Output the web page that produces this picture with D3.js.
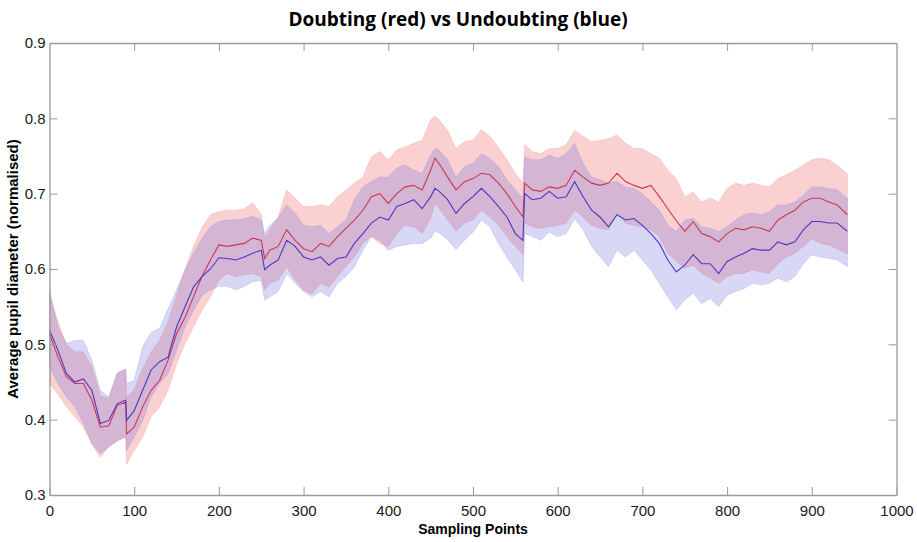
<!DOCTYPE html>
<html>
<head>
<meta charset="utf-8">
<script src="https://cdn.jsdelivr.net/npm/d3@7"></script>
<style>
  body { margin: 0; background: #fff; }
  svg { display: block; }
</style>
</head>
<body>
<div id="chart"></div>
<script>
// sampling points (x) and the curves
var xs = [0,10,20,30,40,50,60,70,80,90,91,100,110,120,130,140,150,160,170,180,190,200,210,220,230,240,250,254,260,270,280,290,300,310,320,330,340,350,360,370,380,390,400,410,420,430,440,450,455,460,470,480,490,500,510,520,530,540,550,559,561,570,580,590,600,610,620,630,640,650,660,670,680,690,700,710,720,730,740,750,760,770,780,790,800,810,820,830,840,850,860,870,880,890,900,910,920,930,942];

// doubting (red)
var redMean = [0.514,0.483,0.457,0.448,0.448,0.426,0.390,0.392,0.419,0.423,0.381,0.390,0.417,0.439,0.452,0.479,0.514,0.536,0.563,0.590,0.612,0.632,0.630,0.632,0.634,0.641,0.638,0.614,0.625,0.630,0.652,0.638,0.627,0.623,0.634,0.630,0.643,0.654,0.665,0.678,0.696,0.700,0.687,0.700,0.709,0.711,0.705,0.731,0.747,0.740,0.722,0.705,0.716,0.720,0.727,0.725,0.714,0.700,0.683,0.669,0.714,0.705,0.703,0.709,0.707,0.711,0.731,0.722,0.714,0.711,0.714,0.727,0.716,0.711,0.707,0.711,0.696,0.680,0.664,0.650,0.663,0.647,0.643,0.636,0.647,0.654,0.652,0.656,0.654,0.650,0.665,0.672,0.678,0.689,0.694,0.694,0.689,0.685,0.672];
var redUpper = [0.565,0.530,0.500,0.490,0.490,0.470,0.432,0.428,0.462,0.467,0.430,0.440,0.468,0.490,0.505,0.530,0.565,0.600,0.630,0.655,0.672,0.676,0.678,0.678,0.680,0.688,0.672,0.641,0.652,0.669,0.705,0.694,0.683,0.683,0.685,0.683,0.696,0.705,0.714,0.722,0.749,0.756,0.745,0.758,0.762,0.767,0.771,0.798,0.803,0.798,0.784,0.760,0.769,0.771,0.785,0.776,0.762,0.745,0.727,0.714,0.765,0.756,0.753,0.760,0.760,0.765,0.784,0.776,0.769,0.771,0.773,0.778,0.767,0.760,0.760,0.753,0.747,0.731,0.720,0.696,0.702,0.689,0.694,0.689,0.707,0.714,0.711,0.714,0.711,0.709,0.720,0.725,0.731,0.738,0.745,0.747,0.745,0.738,0.726];
var redLower = [0.448,0.434,0.417,0.404,0.390,0.368,0.350,0.364,0.372,0.377,0.341,0.359,0.377,0.404,0.417,0.439,0.474,0.501,0.523,0.545,0.563,0.585,0.594,0.590,0.592,0.594,0.590,0.572,0.581,0.585,0.603,0.585,0.572,0.567,0.581,0.576,0.590,0.603,0.616,0.634,0.643,0.634,0.630,0.647,0.658,0.656,0.647,0.667,0.688,0.680,0.665,0.650,0.661,0.665,0.678,0.669,0.658,0.643,0.630,0.619,0.661,0.656,0.654,0.656,0.658,0.661,0.678,0.669,0.658,0.654,0.652,0.674,0.661,0.658,0.656,0.652,0.643,0.621,0.610,0.601,0.605,0.594,0.588,0.581,0.590,0.594,0.594,0.599,0.596,0.594,0.607,0.616,0.621,0.630,0.640,0.634,0.632,0.627,0.620];

// undoubting (blue)
var blueMean = [0.519,0.492,0.461,0.450,0.454,0.439,0.395,0.399,0.421,0.426,0.399,0.412,0.439,0.466,0.477,0.483,0.523,0.550,0.576,0.590,0.600,0.615,0.614,0.612,0.616,0.621,0.625,0.599,0.605,0.612,0.638,0.630,0.616,0.612,0.616,0.605,0.614,0.616,0.634,0.647,0.661,0.669,0.665,0.683,0.687,0.692,0.680,0.696,0.707,0.703,0.692,0.674,0.687,0.696,0.707,0.696,0.683,0.669,0.647,0.638,0.700,0.692,0.694,0.703,0.694,0.696,0.716,0.696,0.678,0.669,0.656,0.672,0.665,0.667,0.658,0.647,0.634,0.612,0.596,0.605,0.619,0.607,0.607,0.594,0.610,0.616,0.621,0.627,0.625,0.625,0.636,0.632,0.636,0.652,0.663,0.663,0.661,0.661,0.650];
var blueUpper = [0.572,0.523,0.501,0.505,0.505,0.479,0.439,0.430,0.462,0.467,0.448,0.452,0.497,0.516,0.521,0.547,0.572,0.598,0.621,0.640,0.656,0.663,0.665,0.665,0.667,0.670,0.665,0.647,0.658,0.668,0.685,0.674,0.658,0.656,0.658,0.647,0.656,0.665,0.692,0.709,0.716,0.722,0.722,0.734,0.738,0.731,0.727,0.751,0.760,0.758,0.745,0.722,0.736,0.740,0.753,0.747,0.736,0.718,0.705,0.694,0.749,0.745,0.745,0.751,0.747,0.753,0.767,0.740,0.722,0.718,0.714,0.716,0.709,0.707,0.700,0.689,0.678,0.658,0.650,0.665,0.667,0.656,0.654,0.650,0.656,0.665,0.672,0.674,0.672,0.676,0.685,0.685,0.689,0.698,0.709,0.709,0.707,0.705,0.694];
var blueLower = [0.470,0.448,0.430,0.417,0.395,0.368,0.355,0.364,0.372,0.377,0.359,0.377,0.399,0.430,0.448,0.461,0.492,0.523,0.545,0.565,0.572,0.577,0.577,0.572,0.577,0.583,0.585,0.559,0.563,0.570,0.594,0.581,0.570,0.563,0.570,0.563,0.581,0.590,0.603,0.625,0.643,0.638,0.625,0.630,0.632,0.634,0.634,0.641,0.650,0.648,0.639,0.626,0.638,0.649,0.665,0.656,0.634,0.616,0.599,0.583,0.647,0.643,0.638,0.649,0.643,0.647,0.667,0.652,0.630,0.616,0.603,0.625,0.616,0.625,0.612,0.599,0.581,0.563,0.546,0.559,0.568,0.554,0.561,0.550,0.565,0.570,0.574,0.581,0.579,0.581,0.588,0.583,0.590,0.607,0.619,0.616,0.614,0.612,0.603];

var xTicks = [0,100,200,300,400,500,600,700,800,900,1000];
var yTicks = [0.3,0.4,0.5,0.6,0.7,0.8,0.9];

var width = 917, height = 542;
var margin = {top: 43, right: 20.5, bottom: 47, left: 49.5};

var svg = d3.select("#chart").append("svg")
  .attr("width", width)
  .attr("height", height);

var x = d3.scaleLinear().domain([0, 1000]).range([margin.left, width - margin.right]);
var y = d3.scaleLinear().domain([0.3, 0.9]).range([height - margin.bottom, margin.top]);

var red = xs.map(function(d, i) { return {x: d, m: redMean[i], lo: redLower[i], hi: redUpper[i]}; });
var blue = xs.map(function(d, i) { return {x: d, m: blueMean[i], lo: blueLower[i], hi: blueUpper[i]}; });

var band = d3.area()
  .x(function(d) { return x(d.x); })
  .y0(function(d) { return y(d.lo); })
  .y1(function(d) { return y(d.hi); });

var line = d3.line()
  .x(function(d) { return x(d.x); })
  .y(function(d) { return y(d.m); });

// shaded bands
svg.append("path").datum(red)
  .attr("d", band)
  .attr("fill", "rgb(240,100,100)")
  .attr("fill-opacity", 0.3)
  .attr("stroke", "rgb(235,150,150)")
  .attr("stroke-opacity", 0.4)
  .attr("stroke-width", 0.8);

svg.append("path").datum(blue)
  .attr("d", band)
  .attr("fill", "rgb(100,100,220)")
  .attr("fill-opacity", 0.25)
  .attr("stroke", "rgb(150,150,225)")
  .attr("stroke-opacity", 0.4)
  .attr("stroke-width", 0.8);

// mean lines
svg.append("path").datum(red)
  .attr("d", line)
  .attr("fill", "none")
  .attr("stroke", "rgb(205,55,80)")
  .attr("stroke-width", 1.1);

svg.append("path").datum(blue)
  .attr("d", line)
  .attr("fill", "none")
  .attr("stroke", "rgb(75,55,195)")
  .attr("stroke-width", 1.1);

// box axes, matlab style ticks pointing in
var axisColor = "#9a9a9a";
var tickLen = 8;

function styleAxis(g) {
  g.select(".domain").attr("stroke", axisColor).attr("stroke-width", 1.3);
  g.selectAll(".tick line").attr("stroke", axisColor).attr("stroke-width", 1);
  g.selectAll(".tick text")
    .attr("fill", "#1a1a1a")
    .style("font-family", "'Liberation Sans', Arial, sans-serif")
    .style("font-size", "15px");
}

svg.append("g")
  .attr("transform", "translate(0," + (height - margin.bottom) + ")")
  .call(d3.axisBottom(x).tickValues(xTicks).tickFormat(d3.format("d"))
    .tickSizeInner(-tickLen).tickSizeOuter(0).tickPadding(10))
  .call(styleAxis);

svg.append("g")
  .attr("transform", "translate(0," + margin.top + ")")
  .call(d3.axisTop(x).tickValues(xTicks.slice(1, -1)).tickFormat("")
    .tickSizeInner(-tickLen).tickSizeOuter(0))
  .call(styleAxis);

svg.append("g")
  .attr("transform", "translate(" + margin.left + ",0)")
  .call(d3.axisLeft(y).tickValues(yTicks).tickFormat(d3.format(".1f"))
    .tickSizeInner(-tickLen).tickSizeOuter(0).tickPadding(4))
  .call(styleAxis);

svg.append("g")
  .attr("transform", "translate(" + (width - margin.right) + ",0)")
  .call(d3.axisRight(y).tickValues(yTicks.slice(1, -1)).tickFormat("")
    .tickSizeInner(-tickLen).tickSizeOuter(0))
  .call(styleAxis);

// titles
svg.append("text")
  .attr("x", 458)
  .attr("y", 26)
  .attr("text-anchor", "middle")
  .style("font-family", "'Open Sans', sans-serif")
  .style("font-weight", "bold")
  .style("font-size", "19px")
  .attr("fill", "#000")
  .text("Doubting (red) vs Undoubting (blue)");

svg.append("text")
  .attr("x", (margin.left + width - margin.right) / 2)
  .attr("y", 534)
  .attr("text-anchor", "middle")
  .style("font-family", "'Liberation Sans', Arial, sans-serif")
  .style("font-weight", "bold")
  .style("font-size", "14px")
  .attr("fill", "#000")
  .text("Sampling Points");

svg.append("text")
  .attr("transform", "translate(18," + ((margin.top + height - margin.bottom) / 2) + ") rotate(-90)")
  .attr("text-anchor", "middle")
  .style("font-family", "'Liberation Sans', Arial, sans-serif")
  .style("font-weight", "bold")
  .style("font-size", "15px")
  .attr("fill", "#000")
  .text("Average pupil diameter (normalised)");
</script>
</body>
</html>
